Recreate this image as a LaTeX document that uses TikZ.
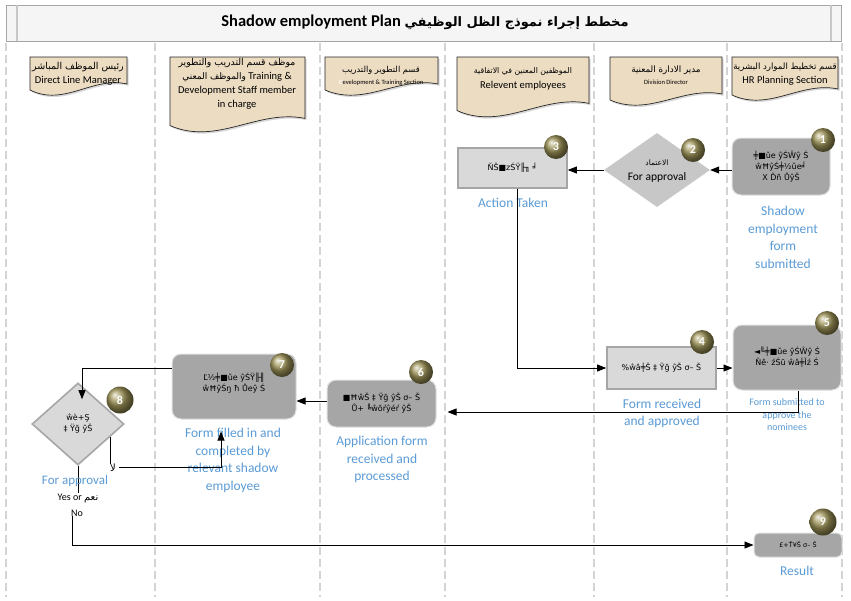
\documentclass[tikz,border=0pt]{standalone}
\usepackage{fontspec}
\setmainfont{Carlito}
\newfontfamily\arabicfont[Script=Arabic]{DejaVu Sans}
\newfontfamily\garbfont{DejaVu Sans}
\TeXXeTstate=1
\usetikzlibrary{shapes.geometric,arrows.meta,shadows}
\definecolor{lblblue}{RGB}{91,155,213}
\definecolor{beige}{RGB}{236,220,194}
\definecolor{boxdark}{RGB}{166,166,166}
\definecolor{boxlight}{RGB}{217,217,217}
\definecolor{badgecol}{RGB}{158,148,88}
\definecolor{lanegray}{RGB}{212,212,212}
\newcommand\ar[1]{{\arabicfont\beginR #1\endR}}
\newcommand\hdrshape[5]{%
  \path[hdr] (#1,#2) -- (#3,#2) -- (#3,{#4-1.6*#5})
    .. controls ({#1+0.65*(#3-#1)},{#4-3.2*#5}) and ({#1+0.35*(#3-#1)},{#4+3*#5})
    .. (#1,{#4-0.4*#5}) -- cycle;}
\tikzset{
  lane/.style={draw=lanegray, dash pattern=on 8pt off 4pt, line width=1.3pt},
  hdr/.style={draw=black!85, line width=0.7pt, fill=beige,
    drop shadow={opacity=0.3, shadow xshift=1.5pt, shadow yshift=-1.8pt}},
  hdrtext/.style={align=center, inner sep=0pt, font=\fontsize{10.5}{13.5}\selectfont},
  darkbox/.style={rectangle, rounded corners=9pt, fill=boxdark, draw=black!12, line width=1pt, inner sep=0pt},
  lightbox/.style={rectangle, fill=boxlight, draw=boxdark, line width=1.6pt, inner sep=0pt},
  decision/.style={diamond, inner sep=0pt},
  badge/.style={circle, minimum size=24pt, inner sep=0pt, shading=ball, ball color=badgecol,
    text=white, font=\bfseries\fontsize{12}{12}\selectfont},
  bluelbl/.style={text=lblblue, align=center, inner sep=0pt, font=\fontsize{13.5}{17.5}\selectfont},
  smallblue/.style={text=lblblue, align=center, inner sep=0pt, font=\fontsize{10}{12.5}\selectfont},
  conn/.style={-{Triangle[length=9pt,width=7pt]}, line width=0.8pt, draw=black},
  plain/.style={line width=0.8pt, draw=black},
  garb/.style={font=\garbfont\fontsize{8}{11}\selectfont, align=center, inner sep=0pt},
  blk/.style={align=center, inner sep=0pt, font=\fontsize{10}{12}\selectfont}
}
\begin{document}
\begin{tikzpicture}[x=1pt,y=-1pt]
\useasboundingbox (0,0) rectangle (851,600);
\fill[white] (0,0) rectangle (851,600);

% swim lanes
\foreach \lx in {6,155,320,445,594,727,842} \draw[lane] (\lx,43) -- (\lx,597);

% title bar
\draw[draw=black!35, fill=black!4, line width=1pt] (6,5) rectangle (841,41);
\draw[black!22, line width=1.6pt] (17,5) -- (17,41) (831,5) -- (831,41);
\node[inner sep=0pt, font=\bfseries\fontsize{16.5}{18}\selectfont] (title) at (425,22)
  {Shadow employment Plan {\arabicfont\fontsize{13}{16}\selectfont\bfseries\beginR مخطط إجراء نموذج الظل الوظيفي\endR}};

% lane headers
\hdrshape{30}{57}{127}{92}{5}
\hdrshape{170}{57}{305}{128}{6}
\hdrshape{325}{57}{438}{92}{5}
\hdrshape{457}{57}{589}{113}{6}
\hdrshape{610}{57}{722}{102}{5}
\hdrshape{732}{57}{838}{97}{5}

\node[hdrtext] (h1) at (78,74) {{\arabicfont\fontsize{9.5}{11}\selectfont\beginR رئيس الموظف المباشر\endR}\\Direct Line Manager};
\node[hdrtext, font=\fontsize{10.5}{13.8}\selectfont] (h2) at (237,84) {{\arabicfont\fontsize{9.3}{10}\selectfont\beginR موظف قسم التدريب والتطوير\endR}\\{\arabicfont\fontsize{9}{10}\selectfont\beginR والموظف المعني\endR} Training \&\\Development Staff member\\in charge};
\node[hdrtext] (h3) at (381,76) {{\arabicfont\fontsize{8.3}{10}\selectfont\beginR قسم التطوير والتدريب\endR}\\[-1pt]{\fontsize{6.5}{8}\selectfont\textcolor{white}{D}evelopment \& Training Section}};
\node[hdrtext] (h4) at (523,79) {{\arabicfont\fontsize{7.8}{10}\selectfont\beginR الموظفين المعنين في الاتفاقية\endR}\\[1pt]Relevent employees};
\node[hdrtext] (h5) at (666,75) {{\arabicfont\fontsize{8.8}{10}\selectfont\beginR مدير الادارة المعنية\endR}\\[-1pt]{\fontsize{6.5}{8}\selectfont Division Director}};
\node[hdrtext] (h6) at (785,74) {{\arabicfont\fontsize{8.6}{10}\selectfont\beginR قسم تخطيط الموارد البشرية\endR}\\HR Planning Section};

% process nodes
\node[darkbox, minimum width=98pt, minimum height=57pt] (n1) at (781,166.5) {};
\node[garb] (t1) at (n1) {╪■ǔe ŷŚŴŷ Ś\\ŵĦŷŚ╪½ǔe╛\\X Ďñ ŮŷŠ};
\node[decision, fill=black!22, minimum width=106pt, minimum height=74pt] (n2) at (657,170) {};
\node[align=center, inner sep=0pt, font=\fontsize{11.5}{14}\selectfont] (t2) at (657,171)
  {{\arabicfont\fontsize{7.5}{9}\selectfont\beginR الاعتماد\endR}\\[1pt]For approval};
\node[lightbox, minimum width=109pt, minimum height=40pt] (n3) at (512.5,168) {};
\node[garb] (t3) at (n3) {ŇŠ■zŚŸ╟╖ ╛};
\node[lightbox, minimum width=109pt, minimum height=42pt] (n4) at (661.5,368) {};
\node[garb] (t4) at (n4) {\%ŵâ╪Š ‡ Ÿğ ŷŠ σ– Š};
\node[darkbox, minimum width=108pt, minimum height=65pt] (n5) at (787,357.5) {};
\node[garb] (t5) at (n5) {◄╙╪■ǔe ŷŚŴŷ Ś\\Ňê· źŚū ŵâ╪Ǐź Ś};
\node[darkbox, minimum width=109pt, minimum height=47pt] (n6) at (381.5,403.5) {};
\node[garb] (t6) at (n6) {■ĦŵŠ ‡ Ÿğ ŷŠ σ– Š\\Ů+ ╚ŵŏŕŷéŕ ŷŠ};
\node[darkbox, minimum width=124pt, minimum height=65pt] (n7) at (234,386.5) {};
\node[garb] (t7) at (234,383) {Ľ½╪■ǔe ŷŚŸ╟╢\\ŵĦŷŚŋ ħ Ůeŷ Ś};
\node[decision, fill=boxlight, draw=boxdark, line width=1.6pt, minimum width=92pt, minimum height=82pt] (n8) at (78,424) {};
\node[garb] (t8) at (n8) {ŵè+Ş\\‡ Ÿğ ŷŠ};
\node[darkbox, rounded corners=5pt, minimum width=88pt, minimum height=24pt] (n9) at (798,545) {};
\node[garb, font=\garbfont\fontsize{6.5}{8}\selectfont] (t9) at (n9) {£+Ť¥Š σ– Š};

% helper coordinates
\coordinate (d8r) at (110,437);
\coordinate (c7x) at (221,0);
\coordinate (noX) at (72,0);
\coordinate (c6w) at ([yshift=2.5pt]n6.west);

% labels under nodes (line behind "For approval")
\node[blk] (yes) at (78,498) {Yes or \ar{نعم}};
\draw[plain] (n8.south) -- (yes.north);
\node[bluelbl] (l1) at (783,237.5) {Shadow\\employment\\form\\submitted};
\node[bluelbl] (l3) at (513,203) {Action Taken};
\node[bluelbl] (l4) at (662,413.5) {Form received\\and approved};
\node[smallblue] (l5) at (787,415) {Form submitted to\\approve the\\nominees};
\node[bluelbl] (l6) at (382,459.5) {Application form\\received and\\processed};
\node[bluelbl] (l7) at (233,460.5) {Form filled in and\\completed by\\relevant shadow\\employee};
\node[bluelbl, font=\fontsize{13}{17}\selectfont] (l8) at (75,481) {For approval};
\node[blk] (la) at (113,468) {\ar{لا}};
\node[blk] (no) at (77,513) {No};
\node[bluelbl] (l9) at (797,571) {Result};

% connectors
\draw[conn] (n1.west |- n2) -- (n2.east);
\draw[conn] (n2.west) -- (n3.east |- n2);
\draw[conn] ([xshift=5pt]n3.south) |- (n4.west);
\draw[conn] (n4.east) -- (n5.west |- n4);
\draw[conn, shorten >=11pt] ([xshift=11pt]n5.south) |- ([yshift=-8.5pt]n6.east);
\draw[conn] (c6w) -- (n7.east |- c6w);
\draw[conn] ([yshift=18.5pt]n7.west) -| ([xshift=4pt,yshift=-17pt]n8.north);
\draw[plain] (d8r) -- (d8r |- la.north);
\draw[conn, shorten >=12pt] ([xshift=3pt,yshift=5pt]la.south east) -| (n7.south -| c7x);
\draw[conn] (no.south -| noX) |- (n9.west);

% badges
\node[badge] (b1) at (823,140) {1};
\node[badge] (b2) at (693,150) {2};
\node[badge] (b3) at (556,147) {3};
\node[badge] (b4) at (702,342) {4};
\node[badge] (b5) at (827,323) {5};
\node[badge] (b6) at (421,372) {6};
\node[badge] (b7) at (282,365) {7};
\node[badge, minimum height=27pt] (b8) at (120,400) {8};
\node[badge, minimum height=27pt] (b9) at (823,522) {9};
\end{tikzpicture}
\end{document}
